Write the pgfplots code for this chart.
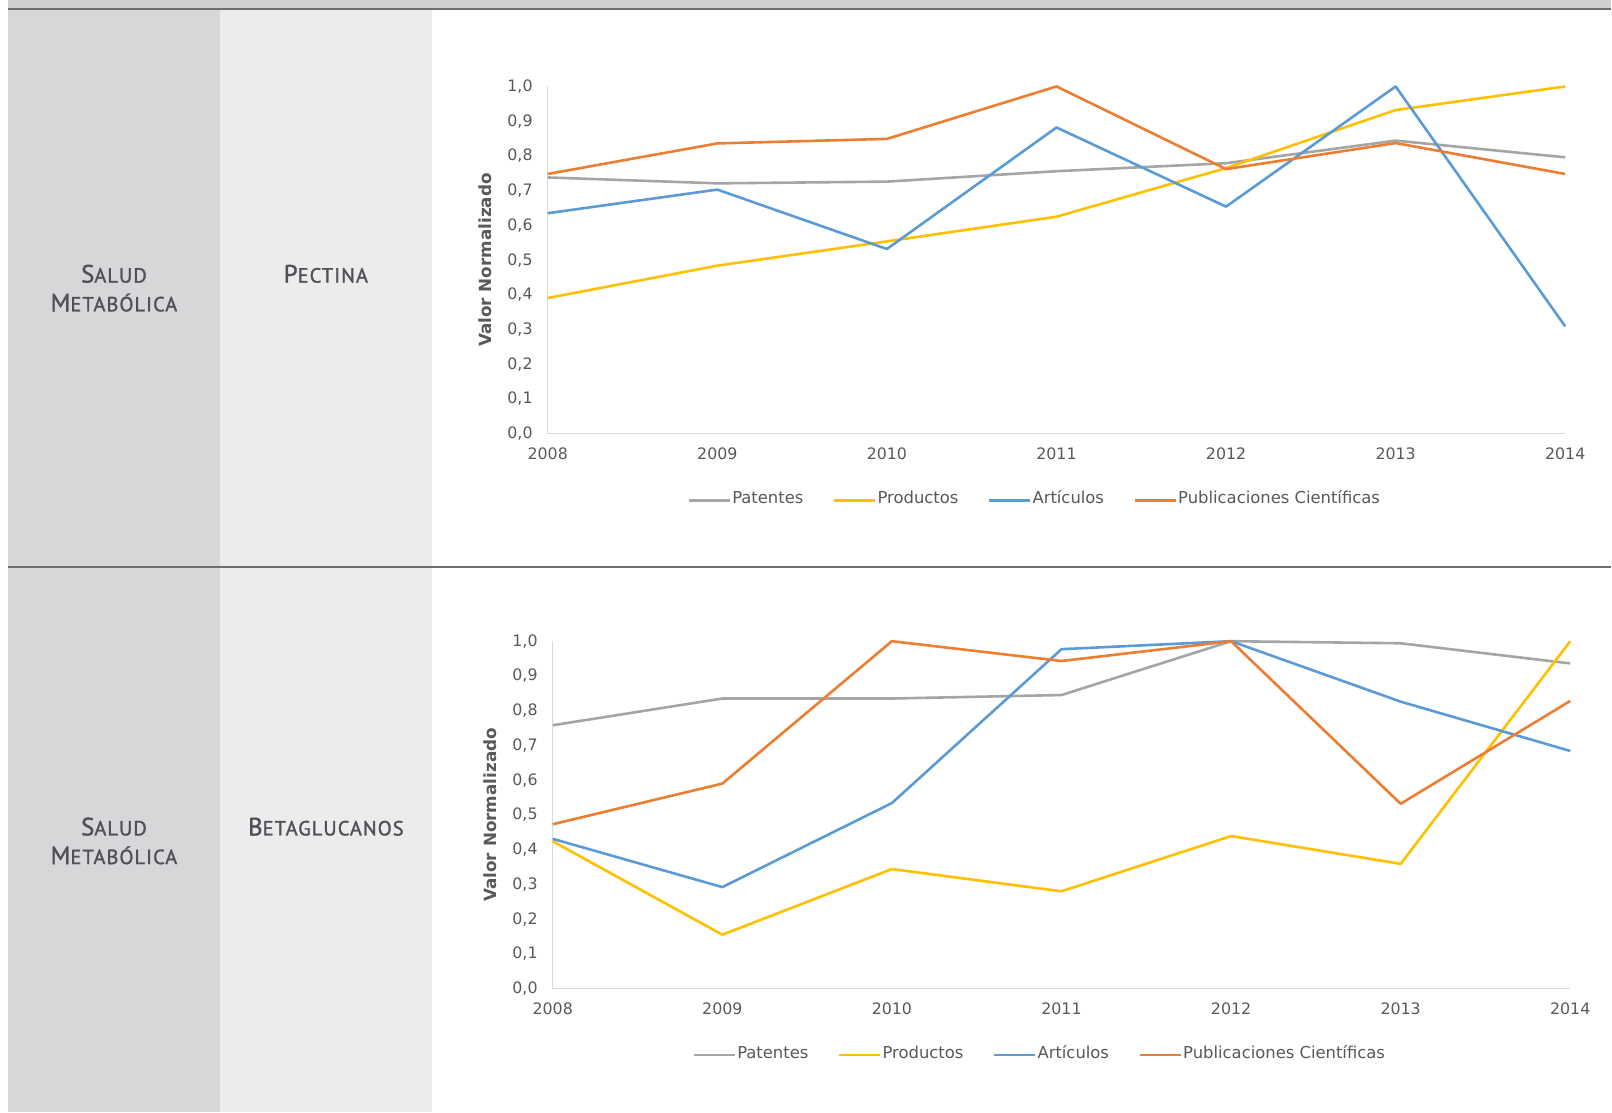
\documentclass[border=0pt]{standalone}
\usepackage{fontspec}
\setmainfont{DejaVu Sans}
\newfontfamily\capsfont[LetterSpace=5,FakeBold=1.4]{PT Sans}
\usepackage{pgfplots}
\pgfplotsset{compat=1.18}

\definecolor{cgray}{HTML}{A5A5A5}
\definecolor{cyel}{HTML}{FFC000}
\definecolor{cblue}{HTML}{5B9BD5}
\definecolor{corange}{HTML}{ED7D31}
\definecolor{colone}{HTML}{D8D6D8}
\definecolor{coltwo}{HTML}{EDEBEC}
\definecolor{topband}{HTML}{D0D0D2}
\definecolor{rulec}{HTML}{6E6E6E}
\definecolor{txt}{HTML}{50505A}
\definecolor{tickc}{HTML}{595959}

\newcommand{\fsc}[2]{{\fontsize{25}{28}\selectfont #1}{\fontsize{20.5}{28}\selectfont #2}}

\pgfplotsset{mychart/.style={
  scale only axis, width=1018pt, height=347.5pt,
  xmin=2008, xmax=2014, ymin=0, ymax=1,
  axis x line*=bottom, axis y line*=left,
  axis line style={draw=black!15, line width=1pt, -},
  xtick={2008,2009,2010,2011,2012,2013,2014},
  ytick={0,0.1,0.2,0.3,0.4,0.5,0.6,0.7,0.8,0.9,1},
  major tick length=0pt,
  /pgf/number format/assume math mode=true,
  tick label style={font=\fontsize{15.8}{18}\selectfont, text=tickc},
  xticklabel style={/pgf/number format/1000 sep={}, inner sep=0pt, anchor=north, yshift=-14pt},
  yticklabel style={/pgf/number format/.cd, fixed, fixed zerofill, precision=1, use comma, /tikz/.cd, inner sep=0pt, anchor=east, xshift=-15pt},
  ylabel={Valor Normalizado},
  every axis y label/.style={at={(axis description cs:-0.0619,0.5)}, rotate=90, anchor=center, font=\bfseries\fontsize{16.8}{19}\selectfont, text=tickc},
  legend columns=4,
  legend style={draw=none, fill=none, inner sep=0pt, font=\fontsize{16.4}{19}\selectfont, text=tickc,
    at={(axis description cs:0.4784,-0.192)}, anchor=center,
    nodes={inner xsep=1.5pt, inner ysep=2pt, text height=0.95em, text depth=0.25em},
    /tikz/every even column/.append style={column sep=28pt}},
  legend image code/.code={\draw[#1, line width=2.2pt] (0pt,0pt) -- (41pt,0pt);},
  every axis plot/.append style={line width=2.6pt, line join=round, mark=none},
  clip=false,
}}

\begin{document}
\begin{tikzpicture}
\begin{scope}[x=1pt,y=1pt]
\fill[white] (0,0) rectangle (1612,1113);
\fill[topband] (8.5,1104) rectangle (1612,1113);
\fill[colone] (8.5,0) rectangle (220,1104);
\fill[coltwo] (220,0) rectangle (432,1104);
\draw[rulec, line width=1.5pt] (8.5,1104) -- (1612,1104);
\draw[rulec, line width=1.5pt] (8.5,545.5) -- (1612,545.5);

\node[anchor=base, text=txt, inner sep=0pt] at (114,830.3) {\capsfont\fsc{S}{ALUD}};
\node[anchor=base, text=txt, inner sep=0pt] at (114,801.5) {\capsfont\fsc{M}{ETABÓLICA}};
\node[anchor=base, text=txt, inner sep=0pt] at (326,830.3) {\capsfont\fsc{P}{ECTINA}};

\node[anchor=base, text=txt, inner sep=0pt] at (114,277.2) {\capsfont\fsc{S}{ALUD}};
\node[anchor=base, text=txt, inner sep=0pt] at (114,248.5) {\capsfont\fsc{M}{ETABÓLICA}};
\node[anchor=base, text=txt, inner sep=0pt] at (326,277.2) {\capsfont\fsc{B}{ETAGLUCANOS}};
\end{scope}

\begin{axis}[mychart, at={(548pt,679pt)}, anchor=south west]
\addplot[cgray] coordinates {(2008,0.738) (2009,0.721) (2010,0.726) (2011,0.756) (2012,0.779) (2013,0.844) (2014,0.796)};
\addlegendentry{Patentes}
\addplot[cyel] coordinates {(2008,0.391) (2009,0.484) (2010,0.554) (2011,0.625) (2012,0.765) (2013,0.932) (2014,1.0)};
\addlegendentry{Productos}
\addplot[cblue] coordinates {(2008,0.635) (2009,0.703) (2010,0.532) (2011,0.882) (2012,0.654) (2013,1.0) (2014,0.309)};
\addlegendentry{Artículos}
\addplot[corange] coordinates {(2008,0.748) (2009,0.836) (2010,0.849) (2011,1.0) (2012,0.762) (2013,0.837) (2014,0.748)};
\addlegendentry{Publicaciones Científicas}
\end{axis}

\begin{axis}[mychart, at={(553pt,124pt)}, anchor=south west]
\addplot[cgray] coordinates {(2008,0.758) (2009,0.835) (2010,0.835) (2011,0.845) (2012,1.0) (2013,0.994) (2014,0.936)};
\addlegendentry{Patentes}
\addplot[cyel] coordinates {(2008,0.424) (2009,0.155) (2010,0.344) (2011,0.280) (2012,0.439) (2013,0.359) (2014,1.0)};
\addlegendentry{Productos}
\addplot[cblue] coordinates {(2008,0.431) (2009,0.292) (2010,0.534) (2011,0.977) (2012,1.0) (2013,0.826) (2014,0.684)};
\addlegendentry{Artículos}
\addplot[corange] coordinates {(2008,0.473) (2009,0.590) (2010,1.0) (2011,0.943) (2012,1.0) (2013,0.532) (2014,0.828)};
\addlegendentry{Publicaciones Científicas}
\end{axis}
\end{tikzpicture}
\end{document}
